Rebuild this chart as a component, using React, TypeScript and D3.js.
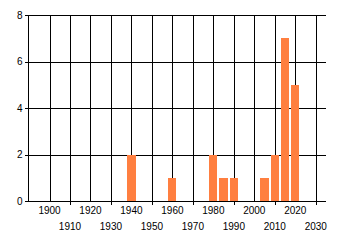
import React from "react";
import * as d3 from "d3";

const years = [1940, 1960, 1980, 1985, 1990, 2005, 2010, 2015, 2020];
const counts = [2, 1, 2, 1, 1, 1, 2, 7, 5];
const xTicks = [1900, 1910, 1920, 1930, 1940, 1950, 1960, 1970, 1980, 1990, 2000, 2010, 2020, 2030];
const yTicks = [0, 2, 4, 6, 8];

export default function App() {
  const W = 340, H = 245;
  const x = d3.scaleLinear().domain([1889.5, 2035]).range([28, 326]);
  const y = d3.scaleLinear().domain([0, 8]).range([201, 15]);
  const px = (v: number) => Math.round(v) + 0.5;
  const barHalf = 2;
  const font = "'Liberation Sans', Arial, sans-serif";
  return (
    <svg width={W} height={H} style={{ position: "absolute", left: 0, top: 0, background: "#fff" }}>
      {yTicks.map((t) => (
        <line key={"h" + t} x1={25} x2={326} y1={px(y(t))} y2={px(y(t))} stroke="#000" strokeWidth={1} shapeRendering="crispEdges" />
      ))}
      <line x1={px(28)} x2={px(28)} y1={px(y(8))} y2={px(y(0))} stroke="#000" shapeRendering="crispEdges" />
      {xTicks.map((t, i) => (
        <line key={"v" + t} x1={px(x(t))} x2={px(x(t))} y1={px(y(8))} y2={i % 2 === 1 ? px(y(0)) + 3 : px(y(0))} stroke="#000" strokeWidth={1} shapeRendering="crispEdges" />
      ))}
      {years.map((yr, i) => (
        <rect key={"b" + i}
          x={Math.round(x(yr - barHalf))}
          y={Math.round(y(counts[i]))}
          width={Math.round(x(yr + barHalf)) - Math.round(x(yr - barHalf))}
          height={Math.round(y(0)) - Math.round(y(counts[i]))}
          fill="#FF7F40" />
      ))}
      {xTicks.map((t, i) => (
        <text key={"xl" + t} x={x(t)} y={i % 2 === 0 ? 214 : 229.5} textAnchor="middle" fontFamily={font} fontSize={10} fill="#000">{t}</text>
      ))}
      {yTicks.map((t) => (
        <text key={"yl" + t} x={22.5} y={y(t) + 3.6} textAnchor="end" fontFamily={font} fontSize={10} fill="#000">{t}</text>
      ))}
    </svg>
  );
}
